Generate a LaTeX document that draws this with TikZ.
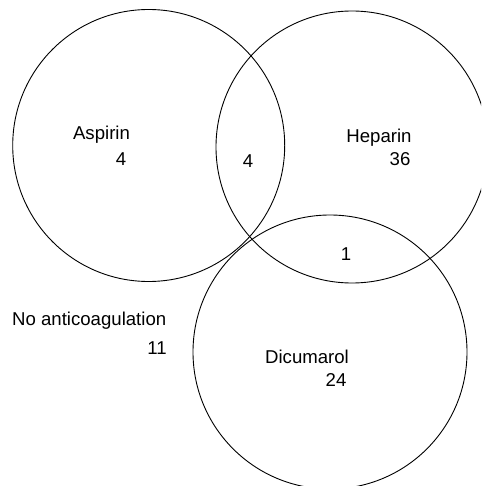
\documentclass[tikz,border=0pt]{standalone}
\usepackage{fontspec}
\setmainfont{Liberation Sans}
\begin{document}
\begin{tikzpicture}[x=1pt,y=-1pt,
  setc/.style={draw, circle, line width=0.9pt, inner sep=0pt},
  lbl/.style={font=\fontsize{18.6}{20}\selectfont, inner sep=0pt}]
\useasboundingbox (0,0) rectangle (481,486);
\clip (0,0) rectangle (481,486);
\node[setc, minimum size=272pt] (asp) at (148.7,145.5) {};
\node[setc, minimum size=272pt] (hep) at (352,147) {};
\node[setc, minimum size=274pt] (dic) at (330,352) {};
\node[lbl] (aspl) at (101.5,135) {Aspirin};
\node[lbl] (aspn) at (121,159) {4};
\node[lbl] (ahn) at (248,161) {4};
\node[lbl] (hepl) at (379,138) {Heparin};
\node[lbl] (hepn) at (400,159) {36};
\node[lbl] (hdn) at (346,254) {1};
\node[lbl, anchor=west] (nol) at (12,321) {No anticoagulation};
\node[lbl] (non) at (157,348) {11};
\node[lbl] (dicl) at (307,357) {Dicumarol};
\node[lbl] (dicn) at (336,380) {24};
\end{tikzpicture}
\end{document}
